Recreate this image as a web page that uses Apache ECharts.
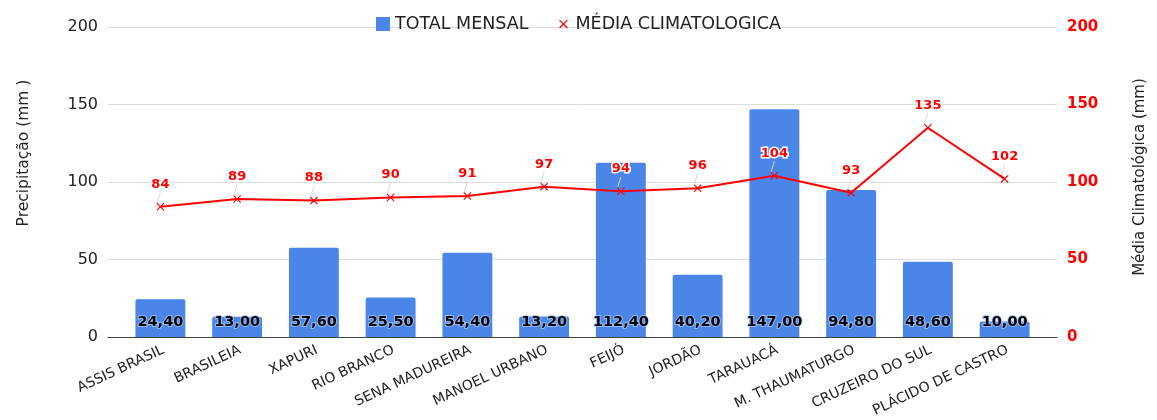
<!DOCTYPE html>
<html>
<head>
<meta charset="utf-8">
<script src="https://cdn.jsdelivr.net/npm/echarts@6/dist/echarts.min.js"></script>
<style>
  html, body { margin: 0; padding: 0; background: #fff; }
  #chart { width: 1157px; height: 420px; }
</style>
</head>
<body>
<div id="chart"></div>
<script>
const cities = ['ASSIS BRASIL', 'BRASILEIA', 'XAPURI', 'RIO BRANCO', 'SENA MADUREIRA', 'MANOEL URBANO',
  'FEIJÓ', 'JORDÃO', 'TARAUACÁ', 'M. THAUMATURGO', 'CRUZEIRO DO SUL', 'PLÁCIDO DE CASTRO'];
const totalMensal = [24.4, 13.0, 57.6, 25.5, 54.4, 13.2, 112.4, 40.2, 147.0, 94.8, 48.6, 10.0];
const mediaClima = [84, 89, 88, 90, 91, 97, 94, 96, 104, 93, 135, 102];
const yTicks = { min: 0, max: 200, interval: 50 };

// x-shaped marker; the legend version carries invisible corner points so it draws smaller
const crossPath = 'path://M1,0L5,4L9,0L10,1L6,5L10,9L9,10L5,6L1,10L0,9L4,5L0,1Z';
const crossLegend = crossPath + 'M-3,-3L-2.99,-3L-3,-2.99ZM13,13L12.99,13L13,12.99Z';
const font = 'DejaVu Sans, sans-serif';

const chart = echarts.init(document.getElementById('chart'));

chart.setOption({
  textStyle: { fontFamily: font },
  animation: false,
  legend: {
    top: 10,
    left: 371,
    itemGap: 28,
    itemWidth: 14,
    itemHeight: 14,
    textStyle: { fontSize: 17.5, color: '#222', fontFamily: font },
    data: [
      { name: 'TOTAL MENSAL', icon: 'rect' },
      { name: 'MÉDIA CLIMATOLOGICA', icon: crossLegend, itemStyle: { color: '#ff0000' } }
    ]
  },
  grid: [
    // background grid: gridlines, axis labels and names
    { left: 108, right: 100, top: 27, bottom: 83 },
    // plot grid for the marks
    { left: 122, right: 114, top: 27, bottom: 83 }
  ],
  xAxis: [
    {
      gridIndex: 0, type: 'value', min: 0, max: 1,
      axisLine: { show: true, onZero: false, lineStyle: { color: '#444', width: 1 } },
      axisTick: { show: false }, axisLabel: { show: false }, splitLine: { show: false }
    },
    {
      gridIndex: 1, type: 'category', data: cities,
      axisLine: { show: false }, axisTick: { show: false },
      axisLabel: {
        rotate: 25, margin: 6, interval: 0, verticalAlign: 'top',
        fontSize: 14, color: '#222', fontFamily: font
      }
    }
  ],
  yAxis: [
    {
      gridIndex: 0, type: 'value', position: 'left', ...yTicks,
      name: 'Precipitação (mm )', nameLocation: 'middle', nameGap: 76,
      nameTextStyle: { fontSize: 15.5, color: '#222', fontFamily: font, padding: [0, 0, 0, 58] },
      axisLine: { show: false }, axisTick: { show: false },
      axisLabel: { fontSize: 16, color: '#222', margin: 10, fontFamily: font },
      splitLine: { lineStyle: { color: '#dcdcdc', width: 1 } }
    },
    {
      gridIndex: 0, type: 'value', position: 'right', ...yTicks,
      name: 'Média Climatológica (mm)', nameLocation: 'middle', nameGap: 76,
      nameTextStyle: { fontSize: 15, color: '#222', fontFamily: font, padding: [0, 0, 0, 10] },
      axisLine: { show: false }, axisTick: { show: false },
      axisLabel: { fontSize: 15, color: '#ff0000', fontWeight: 'bold', margin: 10, fontFamily: font },
      splitLine: { show: false }
    },
    { gridIndex: 1, type: 'value', ...yTicks, show: false },
    { gridIndex: 1, type: 'value', ...yTicks, show: false }
  ],
  series: [
    {
      name: 'TOTAL MENSAL',
      type: 'bar',
      xAxisIndex: 1,
      yAxisIndex: 2,
      data: totalMensal,
      barWidth: '65%',
      itemStyle: { color: '#4a86e8', borderRadius: [2, 2, 0, 0] },
      label: {
        show: true,
        position: 'insideBottom',
        distance: 7,
        fontSize: 14.5,
        fontWeight: 'bold',
        color: '#000',
        fontFamily: font,
        textBorderColor: 'rgba(170,200,250,0.8)',
        textBorderWidth: 2,
        formatter: p => p.value.toFixed(2).replace('.', ',')
      },
      z: 2
    },
    {
      name: 'MÉDIA CLIMATOLOGICA',
      type: 'line',
      xAxisIndex: 1,
      yAxisIndex: 3,
      data: mediaClima,
      symbol: crossPath,
      symbolSize: 8,
      lineStyle: { color: '#ff0000', width: 2 },
      itemStyle: { color: '#ff0000' },
      label: {
        show: true,
        position: 'top',
        distance: 4,
        fontSize: 13,
        fontWeight: 'bold',
        color: '#ff0000',
        fontFamily: font,
        textBorderColor: '#fff',
        textBorderWidth: 3
      },
      labelLayout: { dy: -8 },
      labelLine: { show: true, lineStyle: { color: '#d8d8d8', width: 1 } },
      z: 3
    }
  ]
});
</script>
</body>
</html>
